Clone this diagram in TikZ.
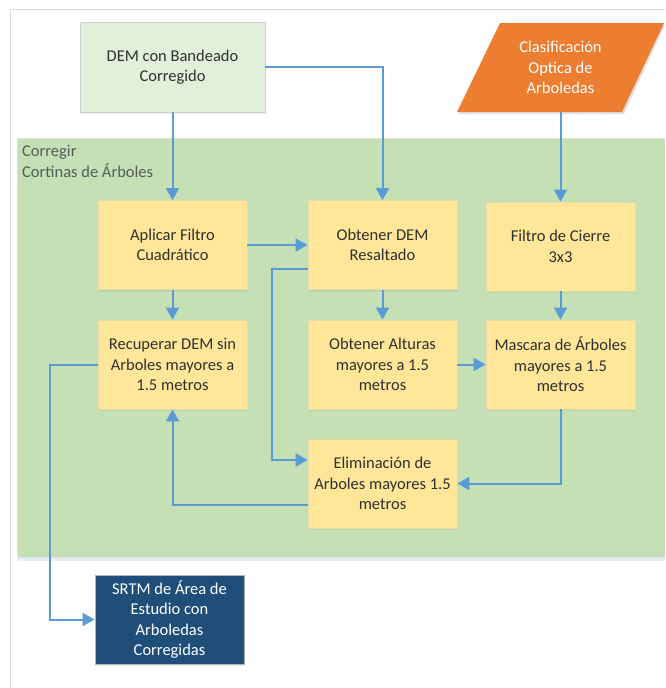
\documentclass[tikz,border=0pt]{standalone}
\usepackage{fontspec}
\setmainfont{Carlito}
\usetikzlibrary{arrows.meta,calc,shadows}
\definecolor{framegray}{HTML}{DADADA}
\definecolor{contgreen}{HTML}{C5E0B4}
\definecolor{demfill}{HTML}{E2EFDA}
\definecolor{boxyellow}{HTML}{FFE699}
\definecolor{boxborder}{HTML}{E8D9A8}
\definecolor{orangefill}{HTML}{ED7D31}
\definecolor{navy}{HTML}{1F4E79}
\definecolor{linkblue}{HTML}{5B9BD5}
\definecolor{txt}{HTML}{303030}
\tikzset{
  boxfont/.style={font=\fontsize{16.5}{20.5}\selectfont},
  procbox/.style={draw=boxborder, line width=0.8pt, fill=boxyellow, minimum width=149, minimum height=89,
    align=center, text=txt, boxfont, inner sep=1pt,
    drop shadow={opacity=0.12, shadow xshift=1pt, shadow yshift=-2pt}},
  link/.style={draw=linkblue, line width=2pt, -{Triangle[length=12pt,width=13pt]}},
}
\begin{document}
\begin{tikzpicture}[x=1pt,y=-1pt]
\useasboundingbox (0,0) rectangle (665,688);
\fill[white] (0,0) rectangle (665,688);
\draw[framegray, line width=1.2pt] (10.5,688) -- (10.5,9.5) -- (665,9.5);
% container
\fill[linkblue!18] (17,557) rectangle (665,561);
\fill[contgreen] (17,138) rectangle (665,557);
\draw[framegray!80, line width=0.6pt] (665,138) -- (17,138) -- (17,557) -- (665,557);
\node[anchor=north west, align=left, text=black!65, boxfont, inner sep=0pt]
  (ctitle) at (22,145) {Corregir\\Cortinas de Árboles};
% top inputs
\node[draw=black!20, line width=0.8pt, fill=demfill, minimum width=185, minimum height=90, align=center,
  text=txt, boxfont,
  drop shadow={opacity=0.12, shadow xshift=1pt, shadow yshift=-2pt}] (dem) at (172.5,67) {DEM con Bandeado\\Corregido};
\fill[black, opacity=0.12] (501,25) -- (665,25) -- (624,114) -- (459,114) -- cycle;
\fill[orangefill] (500,23) -- (664,23) -- (622,112) -- (457,112) -- cycle;
\node[minimum width=120, minimum height=89, align=center, text=white,
  boxfont, inner sep=0pt] (clas) at (560.5,67.5) {Clasificación\\Optica de\\Arboledas};
% process boxes
\node[procbox] (apl) at (172.5,245) {Aplicar Filtro\\Cuadrático};
\node[procbox] (obt) at (382.5,245) {Obtener DEM\\Resaltado};
\node[procbox] (fil) at (560.5,246.5) {Filtro de Cierre\\3x3};
\node[procbox] (rec) at (172.5,364.5) {Recuperar DEM sin\\Arboles mayores a\\1.5 metros};
\node[procbox] (alt) at (382.5,364.5) {Obtener Alturas\\mayores a 1.5\\metros};
\node[procbox] (mas) at (560.5,364.5) {Mascara de Árboles\\mayores a 1.5\\metros};
\node[procbox] (eli) at (382.5,483.5) {Eliminación de\\Arboles mayores 1.5\\metros};
\node[procbox, fill=navy, draw=black!30, text=white] (srtm) at (169.5,619.5) {SRTM de Área de\\Estudio con\\Arboledas\\Corregidas};
% connectors
\draw[link] (dem.south) -- (apl.north);
\draw[link] (dem.east) -| (obt.north);
\draw[link] (clas.south) -- (fil.north);
\draw[link] (apl.east) -- (obt.west);
\draw[link] (apl.south) -- (rec.north);
\draw[link] (obt.south) -- (alt.north);
\draw[link] (fil.south) -- (mas.north);
\draw[link] (alt.east) -- (alt.east -| mas.west);
\draw[link] ($(obt.west)+(0,24)$) -- ++(-36,0) |- ($(eli.west)+(0,-23.5)$);
\draw[link] (mas.south) |- (eli.east);
\draw[link] ($(eli.west)+(0,21.5)$) -| (rec.south);
\draw[link] (rec.west) -- ++(-48,0) |- (srtm.west);
\end{tikzpicture}
\end{document}
